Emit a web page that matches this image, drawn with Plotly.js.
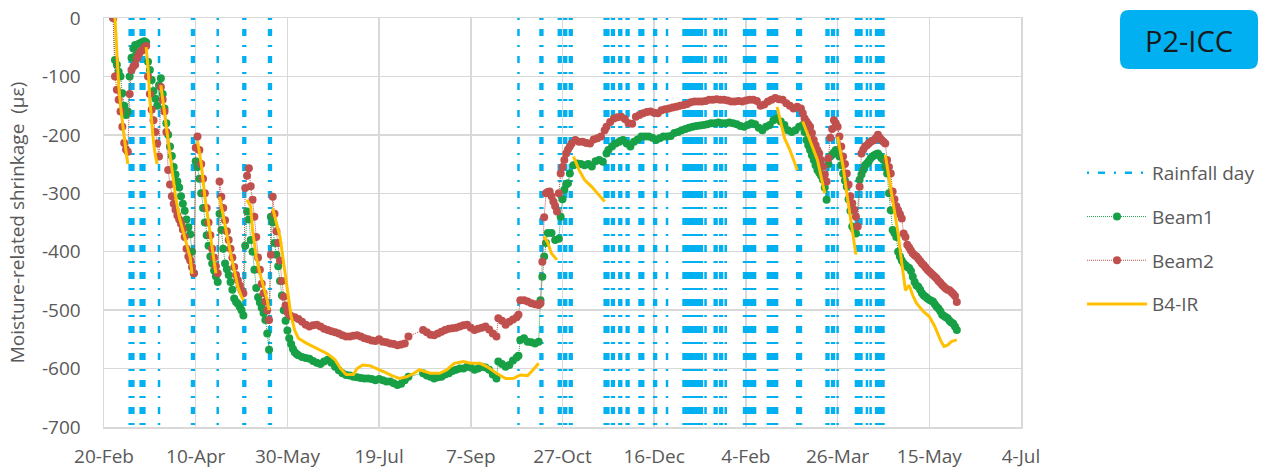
<!DOCTYPE html>
<html><head><meta charset="utf-8">
<script src="https://cdn.plot.ly/plotly-3.0.1.min.js"></script>
<style>html,body{margin:0;padding:0;background:#fff;}#chart{width:1283px;height:471px;}</style>
</head><body><div id="chart"></div>
<script>
// ---- data (x = days since 20-Feb-2024, y = shrinkage in µε) ----
const START_UTC = Date.UTC(2024, 1, 20);
const tickDays = [0, 50, 100, 150, 200, 250, 300, 350, 400, 450, 500];
const tickLabels = ['20-Feb','10-Apr','30-May','19-Jul','7-Sep','27-Oct','16-Dec','4-Feb','26-Mar','15-May','4-Jul'];
const yTickVals = [0, -100, -200, -300, -400, -500, -600, -700];
const yTickText = ['0','-100','-200','-300','-400','-500','-600','-700'];

const rainDays = [14,15,16,20,21,22,30,48,49,62,76,77,90,91,226,238,239,248,249,251,252,254,255,
  273,274,275,277,278,281,282,285,286,292,293,294,300,301,307,316,317,318,319,320,321,322,323,324,325,326,328,
  333,334,336,337,339,349,350,351,352,353,354,355,362,363,364,365,366,367,378,379,380,394,395,397,398,400,
  410,411,412,413,416,418,421,422,423,424,425];

const beam1 = [
 [5,0],[6,-72],[7,-80],[8,-92],[9,-100],[10,-129],[11,-150],[12,-166],[13,-160],
 [14,-100],[15,-68],[16,-52],[17,-46],[18,-60],[19,-44],[20,-43],[21,-41],[22,-40],[23,-42],
 [24,-75],[25,-89],[26,-106],[27,-125],[28,-138],[29,-150],[30,-115],[31,-103],
 [32,-130],[33,-155],[34,-180],[35,-200],[36,-220],[37,-236],[38,-255],[39,-268],[40,-280],[41,-290],[42,-305],[43,-318],[44,-330],[45,-345],[46,-358],[47,-370],[48,-400],[49,-437],
 [50,-245],[51,-255],[52,-275],[53,-300],[54,-325],[55,-350],[56,-372],[57,-390],[58,-408],[59,-420],[60,-432],[61,-442],[62,-452],
 [63,-335],[64,-363],[65,-395],[66,-420],[67,-430],[68,-440],[69,-452],[70,-465],[71,-480],[72,-486],[73,-489],[74,-494],[75,-500],[76,-509],
 [77,-390],[78,-331],[79,-345],[80,-380],[81,-400],[82,-431],[83,-462],[84,-478],[85,-487],[86,-496],[87,-505],[88,-517],[89,-540],[90,-568],
 [91,-340],[92,-350],[93,-385],[94,-405],[95,-425],[96,-450],[97,-475],[98,-500],[99,-518],[100,-535],[101,-548],[102,-558],[103,-566],[104,-572],[105,-575],[106,-577],
 [108,-580],[110,-582],[112,-583],[114,-587],[116,-590],[118,-592],[120,-588],[122,-585],[124,-590],[126,-597],[128,-603],[130,-608],[132,-611],[134,-612],[136,-614],[138,-615],
 [140,-616],[142,-617],[144,-617],[146,-618],[148,-620],[150,-618],[152,-620],[154,-622],[156,-622],[158,-625],[160,-628],[162,-626],[164,-620],[166,-614],
 [174,-608],[176,-612],[178,-614],[180,-617],[182,-615],[184,-614],[186,-610],[188,-608],[190,-604],[192,-602],[194,-600],[196,-600],[198,-597],[200,-598],[202,-602],[204,-600],[206,-597],[208,-598],[210,-602],[212,-610],[214,-617],
 [215,-588],[217,-592],[219,-597],[221,-594],[223,-586],[225,-581],[226,-578],
 [227,-551],[229,-548],[231,-554],[233,-555],[235,-557],[237,-554],
 [238,-483],[239,-443],[240,-408],[241,-385],[242,-368],[244,-368],[246,-380],[248,-378],[249,-340],[250,-310],[251,-294],[252,-285],[253,-283],[254,-266],[256,-252],[258,-249],[260,-250],[262,-252],[264,-250],[266,-254],[268,-245],[270,-243],[272,-246],
 [274,-232],[275,-226],[277,-220],[279,-215],[281,-212],[283,-209],[285,-215],[287,-220],[289,-212],[291,-208],[293,-203],[295,-203],[297,-203],[299,-205],[301,-209],[303,-206],[305,-203],[307,-203],[309,-202],
 [311,-197],[313,-195],[315,-192],[317,-190],[319,-188],[321,-186],[323,-185],[325,-184],[327,-183],[329,-182],[331,-180],[333,-180],[335,-179],[337,-180],[339,-180],[341,-179],[343,-180],[345,-182],[347,-185],[349,-186],
 [351,-183],[353,-180],[355,-182],[357,-188],[359,-192],[361,-186],[363,-183],[365,-175],[367,-172],[369,-177],[371,-183],[373,-192],[375,-195],[377,-192],[379,-186],[381,-183],
 [382,-195],[383,-209],[384,-218],[385,-226],[386,-235],[387,-243],[388,-252],[389,-260],[390,-265],[391,-270],[392,-277],[393,-290],[394,-311],
 [395,-250],[396,-237],[397,-234],[398,-230],[399,-226],[400,-230],[401,-237],[402,-252],[403,-266],[404,-278],[405,-289],[406,-310],[407,-330],[408,-357],[409,-362],[410,-369],
 [412,-277],[413,-268],[414,-260],[415,-252],[416,-249],[417,-245],[418,-240],[419,-237],[420,-235],[421,-233],[422,-232],[423,-236],[424,-240],[425,-243],[426,-255],[427,-266],[428,-300],[429,-329],[430,-363],[431,-368],[432,-375],
 [433,-400],[434,-408],[435,-415],[436,-420],[437,-423],[438,-426],[439,-428],[440,-433],[441,-443],[442,-452],[443,-458],[444,-460],[445,-465],[446,-471],[447,-475],[448,-477],[449,-480],[450,-482],
 [451,-484],[452,-485],[453,-490],[454,-494],[455,-497],[456,-502],[457,-508],[458,-510],[459,-512],[460,-514],[461,-518],[462,-521],[463,-523],[464,-528],[465,-534]
];

const beam2 = [
 [5,0],[6,-100],[7,-123],[8,-140],[9,-160],[10,-186],[11,-214],[12,-225],[13,-229],
 [14,-130],[15,-89],[16,-83],[17,-80],[18,-69],[19,-62],[20,-57],[21,-55],[22,-50],[23,-48],
 [24,-100],[25,-130],[26,-157],[27,-175],[28,-195],[29,-215],[30,-237],
 [31,-118],[32,-140],[33,-160],[34,-195],[35,-260],[36,-285],[37,-305],[38,-318],[39,-328],[40,-338],[41,-345],[42,-352],[43,-362],[44,-375],[45,-395],[46,-408],[47,-415],[48,-426],[49,-437],
 [50,-222],[51,-203],[52,-226],[53,-250],[54,-275],[55,-300],[56,-325],[57,-350],[58,-372],[59,-395],[60,-410],[61,-425],[62,-437],
 [63,-280],[64,-306],[65,-325],[66,-346],[67,-365],[68,-380],[69,-395],[70,-410],[71,-426],[72,-440],[73,-449],[74,-458],[75,-466],[76,-471],
 [77,-291],[78,-270],[79,-257],[80,-288],[81,-311],[82,-340],[83,-375],[84,-410],[85,-431],[86,-455],[87,-471],[88,-485],[89,-500],[90,-517],
 [91,-405],[92,-306],[93,-335],[94,-365],[95,-385],[96,-415],[97,-450],[98,-477],[99,-492],[100,-503],[101,-508],[102,-510],[104,-512],[106,-515],[108,-520],[110,-525],
 [112,-528],[114,-526],[116,-525],[118,-528],[120,-532],[122,-534],[124,-536],[126,-538],[128,-540],[130,-543],[132,-545],[134,-545],[136,-544],[138,-543],[140,-545],[142,-548],[144,-550],[146,-552],[148,-553],
 [150,-550],[152,-554],[154,-555],[156,-557],[158,-558],[160,-560],[162,-559],[164,-557],[166,-545],
 [174,-534],[176,-538],[178,-542],[180,-543],[182,-540],[184,-537],[186,-534],[188,-532],[190,-531],[192,-530],[194,-528],[196,-526],[198,-525],[200,-530],[202,-534],[204,-532],[206,-530],[208,-528],[210,-533],[212,-540],[214,-545],
 [215,-514],[217,-518],[219,-525],[221,-520],[223,-516],[225,-512],[226,-508],
 [227,-483],[229,-483],[231,-485],[233,-488],[235,-490],[237,-491],[238,-488],
 [239,-417],[240,-341],[241,-300],[242,-298],[243,-297],[244,-305],[245,-314],[246,-322],[247,-331],[248,-300],[249,-266],[250,-255],[251,-243],[252,-232],[253,-225],[254,-220],[255,-215],
 [257,-209],[259,-212],[261,-212],[263,-214],[265,-215],[267,-208],[269,-206],[271,-203],[273,-192],[274,-186],[276,-178],[278,-172],[280,-170],[282,-169],[284,-173],[286,-180],[288,-181],
 [290,-169],[292,-166],[294,-163],[296,-161],[298,-160],[300,-162],[302,-163],[304,-158],[306,-156],[308,-155],[310,-153],[312,-152],[314,-150],[316,-149],[318,-147],[320,-144],
 [322,-143],[324,-143],[326,-143],[328,-142],[330,-140],[332,-140],[334,-139],[336,-140],[338,-140],[340,-141],[342,-143],[344,-143],[346,-142],[348,-143],[350,-141],[352,-140],[354,-140],[356,-142],
 [358,-150],[360,-148],[362,-143],[364,-140],[366,-137],[368,-139],[370,-140],[372,-146],[374,-150],[376,-155],[378,-152],[380,-155],
 [381,-163],[382,-172],[383,-177],[384,-182],[385,-186],[386,-197],[387,-209],[388,-218],[389,-226],[390,-232],[391,-243],[392,-254],[393,-268],[394,-280],
 [395,-240],[396,-205],[397,-190],[398,-175],[399,-180],[400,-186],[401,-203],[402,-220],[403,-237],[404,-250],[405,-266],[406,-285],[407,-305],[408,-317],[409,-328],[410,-340],[411,-357],
 [412,-289],[413,-232],[414,-225],[415,-220],[416,-218],[417,-215],[418,-212],[419,-210],[420,-209],[421,-205],[422,-200],[423,-205],[424,-209],[425,-212],[426,-215],[427,-243],[428,-255],[429,-266],[430,-297],
 [431,-310],[432,-322],[433,-329],[434,-336],[435,-343],[436,-369],[437,-375],[438,-388],[439,-393],[440,-398],[441,-403],[442,-406],[443,-408],[444,-412],[445,-416],[446,-420],[447,-423],[448,-427],
 [449,-431],[450,-434],[451,-437],[452,-440],[453,-443],[454,-446],[455,-450],[456,-453],[457,-457],[458,-460],[459,-463],[460,-465],[461,-466],[462,-469],[463,-472],[464,-476],[465,-486]
];

// B4-IR: separate measurement runs (null = break)
const b4ir = [
 [6,0],[7,-60],[8,-115],[9,-150],[10,-180],[11,-205],[12,-228],[13,-250], null,
 [23,-50],[24,-85],[25,-140],[26,-180],[27,-212],[28,-235],[29,-250], null,
 [31,-115],[33,-165],[35,-215],[37,-260],[39,-305],[41,-340],[43,-365],[45,-385],[47,-410],[48,-438], null,
 [51,-211],[53,-249],[55,-306],[57,-351],[59,-391],[60,-415],[61,-437], null,
 [63,-306],[65,-340],[67,-369],[69,-403],[71,-431],[73,-460],[75,-477],[76,-483], null,
 [78,-311],[80,-323],[81,-363],[83,-409],[85,-437],[87,-460],[89,-483],[90,-500], null,
 [92,-326],[94,-350],[96,-375],[98,-420],[100,-470],[102,-510],[104,-535],[106,-548],[110,-556],[114,-562],[118,-568],[122,-575],[126,-585],[129,-600],[132,-610],[136,-610],
 [138,-600],[141,-594],[145,-595],[149,-600],[153,-606],[157,-612],[161,-617],[165,-614],[169,-608],[172,-602],[175,-605],[178,-608],[183,-608],[187,-602],[191,-591],[196,-588],
 [200,-591],[205,-591],[209,-597],[214,-608],[219,-617],[223,-617],[227,-611],[231,-612],[234,-602],[237,-591], null,
 [240,-374],[242,-385],[244,-403],[247,-414], null,
 [256,-237],[259,-260],[262,-277],[266,-289],[269,-300],[273,-314], null,
 [367,-152],[369,-180],[371,-205],[374,-226],[378,-260], null,
 [381,-177],[385,-209],[389,-243],[393,-300], null,
 [400,-203],[403,-254],[405,-300],[407,-340],[409,-380],[410,-405], null,
 [426,-234],[429,-289],[431,-329],[433,-369],[435,-420],[437,-466],[439,-457],[441,-475],[443,-488],[447,-503],[450,-511],[453,-528],[456,-551],[458,-562],[460,-560],[462,-554],[465,-551]
];

// ---- helpers ----
function dayToDate(d) { return new Date(START_UTC + d * 86400000).toISOString().slice(0, 10); }
const xs = arr => arr.map(p => p ? dayToDate(p[0]) : null);
const ys = arr => arr.map(p => p ? p[1] : null);

const Y_MIN = -700, Y_MAX = 0;
const rx = [], ry = [];
rainDays.forEach(d => { const t = dayToDate(d); rx.push(t, t, null); ry.push(Y_MAX, Y_MIN, null); });

const FONT = '"Open Sans", "Noto Sans", sans-serif';
const GREY = '#595959';

const traces = [
 { name: 'Rainfall day', x: rx, y: ry, mode: 'lines', legendgroup: 'a',
   line: { color: '#00B0F0', width: 2.5, dash: '2px,9px,7px,9px' }, hoverinfo: 'skip' },
 { name: 'Beam1', x: xs(beam1), y: ys(beam1), mode: 'lines+markers', legendgroup: 'b',
   line: { color: '#1FA34F', width: 1, dash: '1px,1px' }, marker: { color: '#17A046', size: 8 } },
 { name: 'Beam2', x: xs(beam2), y: ys(beam2), mode: 'lines+markers', legendgroup: 'c',
   line: { color: '#C0504D', width: 1, dash: '1px,1px' }, marker: { color: '#C0504D', size: 8 } },
 { name: 'B4-IR', x: xs(b4ir), y: ys(b4ir), mode: 'lines', legendgroup: 'd', connectgaps: false,
   line: { color: '#FFC000', width: 3 } }
];

const M = { l: 104, r: 262, t: 18, b: 44 };
const W = 1283, H = 471;
const PW = W - M.l - M.r, PH = H - M.t - M.b;
const px = x => (x - M.l) / PW;
const py = y => (H - M.b - y) / PH;
function roundRect(x0, y0, x1, y1, r) {
  return `M${px(x0+r)},${py(y0)} L${px(x1-r)},${py(y0)} Q${px(x1)},${py(y0)} ${px(x1)},${py(y0+r)} ` +
         `L${px(x1)},${py(y1-r)} Q${px(x1)},${py(y1)} ${px(x1-r)},${py(y1)} L${px(x0+r)},${py(y1)} ` +
         `Q${px(x0)},${py(y1)} ${px(x0)},${py(y1-r)} L${px(x0)},${py(y0+r)} Q${px(x0)},${py(y0)} ${px(x0+r)},${py(y0)} Z`;
}

const layout = {
  width: W, height: H, margin: M,
  paper_bgcolor: '#fff', plot_bgcolor: '#fff',
  font: { family: FONT, color: GREY, size: 17 },
  showlegend: true,
  legend: { x: px(1082), y: py(154), xanchor: 'left', yanchor: 'top', font: { size: 19, color: GREY, family: FONT },
            itemwidth: 60, tracegroupgap: 16, bgcolor: 'rgba(0,0,0,0)' },
  xaxis: { type: 'date', range: [dayToDate(tickDays[0]), dayToDate(tickDays[tickDays.length-1])],
           tickvals: tickDays.map(dayToDate), ticktext: tickLabels, tickfont: { size: 19, color: GREY },
           showgrid: true, gridcolor: '#D9D9D9', gridwidth: 1.5, zeroline: false,
           showline: true, mirror: true, linecolor: '#D9D9D9', linewidth: 1.5, ticks: '', ticklabelstandoff: 12 },
  yaxis: { range: [Y_MIN, Y_MAX], tickvals: yTickVals, ticktext: yTickText, tickfont: { size: 19, color: GREY },
           showgrid: true, gridcolor: '#D9D9D9', gridwidth: 1.5, zeroline: false,
           showline: true, mirror: true, linecolor: '#D9D9D9', linewidth: 1.5, ticks: '', ticklabelstandoff: 18,
           title: { text: 'Moisture-related shrinkage  (με)', font: { size: 19, color: GREY }, standoff: 12 } },
  shapes: [{ type: 'path', xref: 'paper', yref: 'paper', path: roundRect(1120, 10, 1258, 69, 9),
             fillcolor: '#00B0F0', line: { width: 0 } }],
  annotations: [{ text: 'P2-ICC', xref: 'paper', yref: 'paper', x: px(1189), y: py(40), xanchor: 'center', yanchor: 'middle',
                  showarrow: false, font: { size: 29, color: '#1A1A1A', family: FONT } }]
};

Plotly.newPlot('chart', traces, layout, { displayModeBar: false, staticPlot: true });
</script>
</body></html>
